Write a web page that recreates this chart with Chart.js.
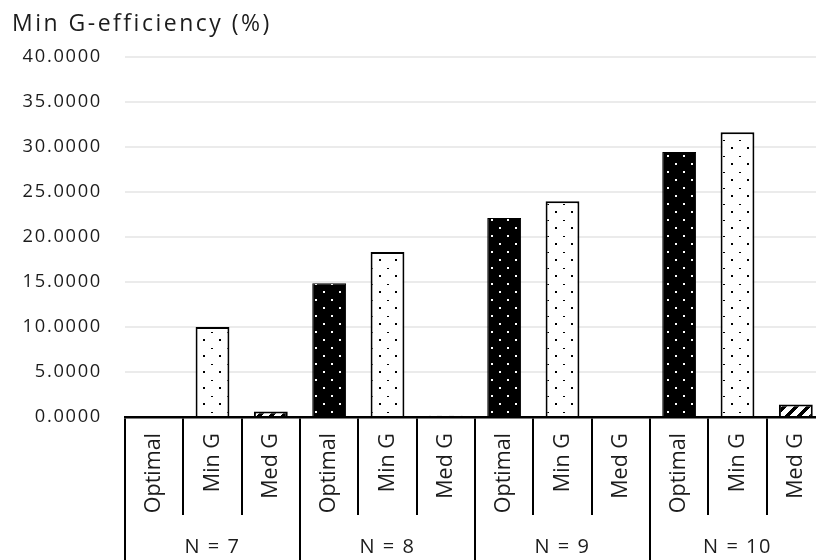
<!DOCTYPE html>
<html>
<head>
<meta charset="utf-8">
<script src="https://cdn.jsdelivr.net/npm/chart.js@4.4.1/dist/chart.umd.min.js"></script>
<style>
  html, body { margin: 0; padding: 0; background: #ffffff; overflow: hidden; }
  #wrap { position: relative; width: 826px; height: 560px; }
</style>
</head>
<body>
<div id="wrap"><canvas id="chart"></canvas></div>
<script>
// Groups (number of factors) and the three designs compared within each group
const groups = ['N = 7', 'N = 8', 'N = 9', 'N = 10'];
const methods = ['Optimal', 'Min G', 'Med G'];

// Min G-efficiency (%) per group
const optimal = [0, 14.85, 22.1, 29.4];
const minG = [10.0, 18.3, 23.95, 31.6];
const medG = [0.6, 0.15, 0, 1.4];

// Y axis ticks
const yTicks = { min: 0, max: 40, step: 5 };

// One category per (group, design) pair
const categories = [];
groups.forEach(() => methods.forEach(m => categories.push(m)));

// Place a group's value at its own slot, null elsewhere
function slotted(values, methodIndex) {
  const out = new Array(categories.length).fill(null);
  values.forEach((v, g) => { out[g * methods.length + methodIndex] = v; });
  return out;
}

// Fill patterns
function makeTile(size, paint) {
  const c = document.createElement('canvas');
  c.width = size; c.height = size;
  const ctx = c.getContext('2d');
  paint(ctx, size);
  return document.createElement('canvas').getContext('2d').createPattern(c, 'repeat');
}

// black with white dots
const darkDots = makeTile(16, (ctx, s) => {
  ctx.fillStyle = '#000'; ctx.fillRect(0, 0, s, s);
  ctx.fillStyle = '#fff';
  ctx.fillRect(3, 3, 2, 2);
  ctx.fillRect(11, 11, 2, 2);
});

// white with sparse black dots and dashes
const lightDots = makeTile(16, (ctx, s) => {
  ctx.fillStyle = '#fff'; ctx.fillRect(0, 0, s, s);
  ctx.fillStyle = '#000';
  ctx.fillRect(11, 3, 2, 2);
  ctx.fillRect(3, 12, 2, 1);
});

// wide upward diagonal stripes
const stripes = makeTile(12, (ctx, s) => {
  const img = ctx.createImageData(s, s);
  for (let y = 0; y < s; y++) {
    for (let x = 0; x < s; x++) {
      const on = ((x + y) % s) < 5;
      const i = (y * s + x) * 4;
      const v = on ? 0 : 255;
      img.data[i] = v; img.data[i + 1] = v; img.data[i + 2] = v; img.data[i + 3] = 255;
    }
  }
  ctx.putImageData(img, 0, 0);
});

const FONT = "'Open Sans', 'Noto Sans', sans-serif";
const TEXT = '#1c1c1c';

// Tracked-out lettering for the title, the value axis and the group labels
function tracked(chart, target, method, spacing) {
  if (!target || target['_tracked_' + method]) return;
  const orig = target[method].bind(target);
  target[method] = (...args) => {
    const ctx = chart.ctx;
    const prev = ctx.letterSpacing;
    ctx.letterSpacing = spacing;
    orig(...args);
    ctx.letterSpacing = prev;
  };
  target['_tracked_' + method] = true;
}
const letterSpacing = {
  id: 'letterSpacing',
  beforeDraw(chart) {
    tracked(chart, chart.titleBlock, 'draw', '2.5px');
    tracked(chart, chart.scales.y, 'drawLabels', '1.7px');
    tracked(chart, chart.scales.x2, 'drawLabels', '1.5px');
  }
};

new Chart(document.getElementById('chart'), {
  type: 'bar',
  plugins: [letterSpacing],
  data: {
    labels: categories,
    datasets: [
      { label: methods[0], data: slotted(optimal, 0), backgroundColor: darkDots, borderColor: '#000', borderWidth: 1 },
      { label: methods[1], data: slotted(minG, 1), backgroundColor: lightDots, borderColor: '#000', borderWidth: 2 },
      { label: methods[2], data: slotted(medG, 2), backgroundColor: stripes, borderColor: '#000', borderWidth: 2 }
    ]
  },
  options: {
    responsive: true,
    maintainAspectRatio: false,
    animation: false,
    events: [],
    datasets: {
      bar: { grouped: false, barPercentage: 0.58, categoryPercentage: 1, skipNull: true }
    },
    layout: { padding: { left: 12, right: 1, top: 0, bottom: 0 } },
    plugins: {
      legend: { display: false },
      tooltip: { enabled: false },
      title: {
        display: true,
        text: 'Min G-efficiency (%)',
        align: 'start',
        color: TEXT,
        font: { family: FONT, size: 23, weight: 'normal' },
        padding: { top: 11, bottom: 18 }
      }
    },
    scales: {
      y: {
        min: yTicks.min,
        max: yTicks.max,
        afterFit: s => { s.width = 113; },
        ticks: {
          stepSize: yTicks.step,
          padding: 23,
          color: TEXT,
          font: { family: FONT, size: 18.3 },
          callback: v => Number(v).toFixed(4)
        },
        grid: { color: '#ebebeb', lineWidth: 2, drawTicks: false },
        border: { display: false }
      },
      x: {
        position: 'bottom',
        weight: 0,
        z: 1,
        afterFit: s => { s.height = 98; },
        ticks: {
          autoSkip: false,
          minRotation: 90,
          maxRotation: 90,
          padding: -82,
          color: TEXT,
          font: { family: FONT, size: 21.5 }
        },
        grid: {
          offset: true,
          drawOnChartArea: false,
          drawTicks: true,
          tickLength: 98,
          color: '#000',
          lineWidth: 2
        },
        border: { display: true, color: '#000', width: 2.5 }
      },
      x2: {
        type: 'category',
        labels: groups,
        position: 'bottom',
        weight: 1,
        offset: true,
        afterFit: s => { s.height = 45; },
        ticks: {
          autoSkip: false,
          maxRotation: 0,
          padding: -25,
          color: TEXT,
          font: { family: FONT, size: 20 }
        },
        grid: {
          offset: true,
          drawOnChartArea: false,
          drawTicks: true,
          tickLength: 45,
          color: '#000',
          lineWidth: 2
        },
        border: { display: false }
      }
    }
  }
});
</script>
</body>
</html>
